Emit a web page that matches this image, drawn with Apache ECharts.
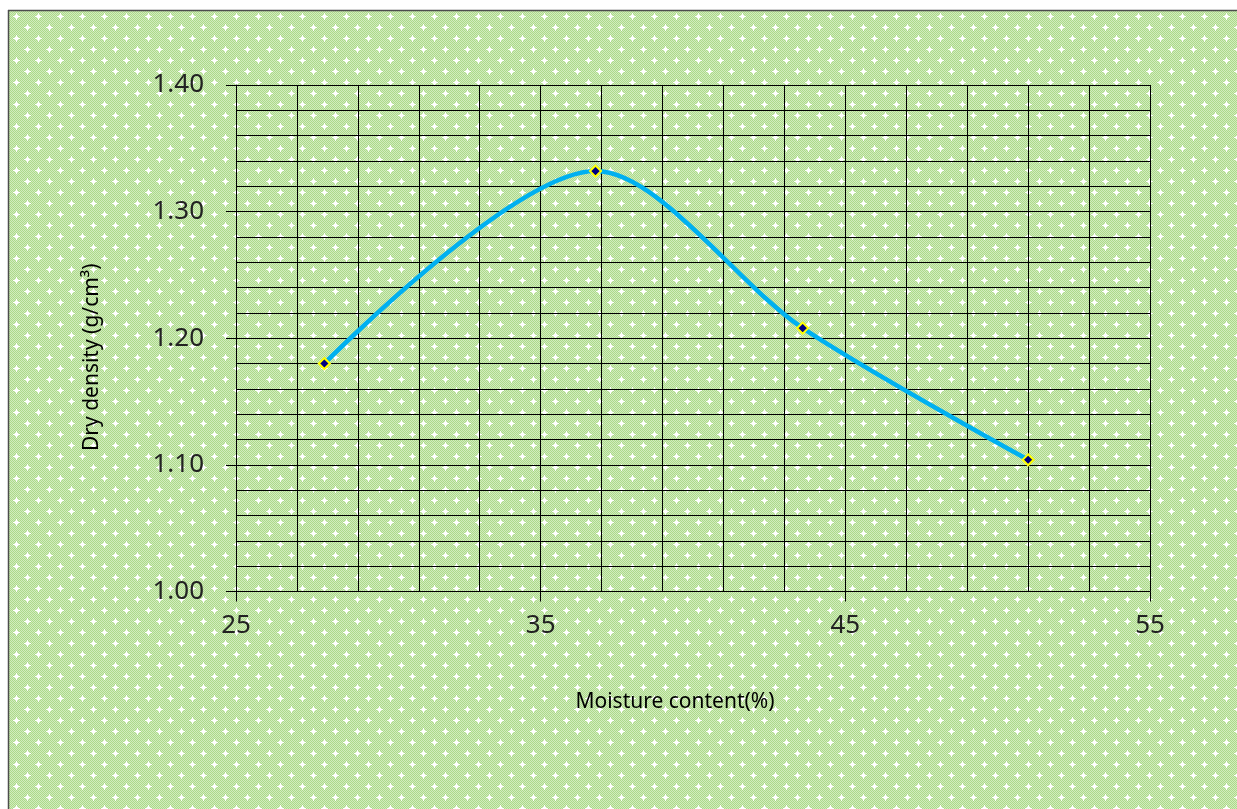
<!DOCTYPE html>
<html>
<head>
<meta charset="utf-8">
<script src="https://cdn.jsdelivr.net/npm/echarts@6/dist/echarts.min.js"></script>
<style>
html,body{margin:0;padding:0;background:#fff;}
#chart{position:absolute;left:0;top:0;width:1237px;height:809px;}
</style>
</head>
<body>
<div id="chart"></div>
<script>
// Data
const moisture = [27.9, 36.8, 43.6, 51.0];
const dryDensity = [1.180, 1.332, 1.208, 1.104];
const xTitle = 'Moisture content(%)';
const yTitle = 'Dry density (g/cm\u00B3)';

// Background texture (green checker with white stars)
function makePattern() {
  const c = document.createElement('canvas');
  c.width = 22; c.height = 22;
  const ctx = c.getContext('2d');
  for (let y = 0; y < 22; y++) {
    for (let x = 0; x < 22; x++) {
      ctx.fillStyle = ((x + y) % 2 === 0) ? '#acd98a' : '#d2edbe';
      ctx.fillRect(x, y, 1, 1);
    }
  }
  function star(cx, cy) {
    ctx.fillStyle = '#ffffff';
    ctx.fillRect(cx - 1, cy - 1, 3, 3);
    ctx.fillRect(cx - 3, cy, 7, 1);
    ctx.fillRect(cx, cy - 3, 1, 7);
  }
  star(5, 5);
  star(16, 16);
  return c;
}

const chart = echarts.init(document.getElementById('chart'), null, {renderer: 'canvas'});
const font = 'Noto Sans';
const option = {
  backgroundColor: {image: makePattern(), repeat: 'repeat'},
  animation: false,
  graphic: [
    {type: 'rect', shape: {x: 0, y: 0, width: 8, height: 809}, style: {fill: '#ffffff'}, silent: true},
    {type: 'rect', shape: {x: 0, y: 0, width: 1237, height: 10}, style: {fill: '#ffffff'}, silent: true},
    {type: 'line', shape: {x1: 8.5, y1: 10, x2: 8.5, y2: 809}, style: {stroke: '#4d4d4d', lineWidth: 1.5}, silent: true},
    {type: 'line', shape: {x1: 8, y1: 10.5, x2: 1237, y2: 10.5}, style: {stroke: '#4d4d4d', lineWidth: 1.5}, silent: true}
  ],
  grid: {left: 236, top: 85, right: 87, bottom: 217.5, containLabel: false},
  xAxis: {
    type: 'value', min: 25, max: 55, interval: 10,
    name: xTitle, nameLocation: 'middle', nameGap: 100,
    nameTextStyle: {fontFamily: font, fontSize: 21, color: '#000', padding: [0, 36, 0, 0]},
    axisLine: {show: true, lineStyle: {color: '#000', width: 1}},
    axisTick: {show: true, length: 10, inside: false, lineStyle: {color: '#000'}},
    axisLabel: {fontFamily: font, fontSize: 26, color: '#222', margin: 21},
    splitLine: {show: true, lineStyle: {color: '#000', width: 1}},
    minorTick: {show: false, splitNumber: 5},
    minorSplitLine: {show: true, lineStyle: {color: '#000', width: 1}}
  },
  yAxis: {
    type: 'value', min: 1.0, max: 1.4, interval: 0.1,
    name: yTitle, nameLocation: 'middle', nameGap: 133, nameRotate: 90,
    nameTextStyle: {fontFamily: font, fontSize: 21, color: '#000', padding: [0, 38, 0, 0]},
    axisLine: {show: true, lineStyle: {color: '#000', width: 1}},
    axisTick: {show: true, length: 10, inside: false, lineStyle: {color: '#000'}},
    axisLabel: {fontFamily: font, fontSize: 26, color: '#222', margin: 32,
      formatter: v => v.toFixed(2)},
    splitLine: {show: true, lineStyle: {color: '#000', width: 1}},
    minorTick: {show: false, splitNumber: 5},
    minorSplitLine: {show: true, lineStyle: {color: '#000', width: 1}}
  },
  series: [{
    type: 'line',
    data: moisture.map((x, i) => [x, dryDensity[i]]),
    smooth: 0.3,
    lineStyle: {color: '#00b0f0', width: 4.5},
    symbol: 'diamond', symbolSize: 11,
    itemStyle: {color: '#000080', borderColor: '#ffff00', borderWidth: 2},
    z: 5
  }]
};
chart.setOption(option);
</script>
</body>
</html>
